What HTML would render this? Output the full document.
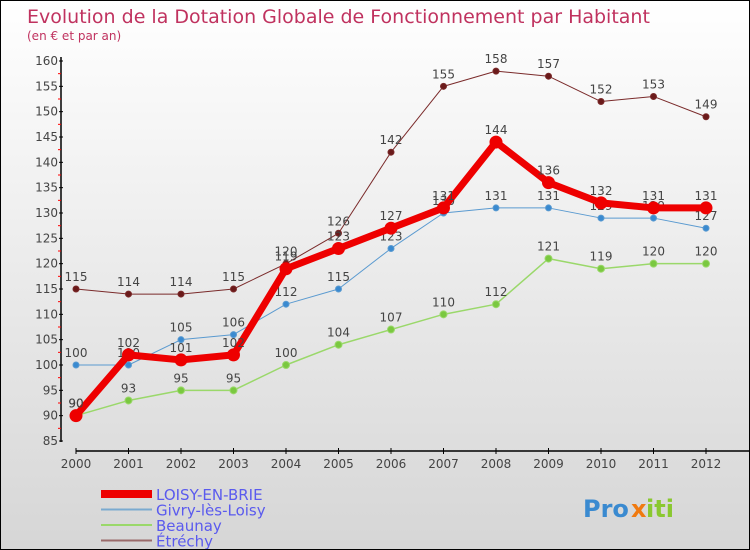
<!DOCTYPE html>
<html><head><meta charset="utf-8"><style>
body{margin:0}
#c{width:750px;height:550px;position:relative;box-sizing:border-box;border:1px solid #000;background:linear-gradient(#fff,#d6d6d6);font-family:"DejaVu Sans","Liberation Sans",sans-serif;overflow:hidden}
</style></head><body>
<div id="c">
<svg width="750" height="550" id="s"></svg>
</div>
<script>
const years=["2000","2001","2002","2003","2004","2005","2006","2007","2008","2009","2010","2011","2012"];
const loisy=[90,102,101,102,119,123,127,131,144,136,132,131,131];
const givry=[100,100,105,106,112,115,123,130,131,131,129,129,127];
const beaunay=[90,93,95,95,100,104,107,110,112,121,119,120,120];
const etrechy=[115,114,114,115,120,126,142,155,158,157,152,153,149];
const yTicks=[85,90,95,100,105,110,115,120,125,130,135,140,145,150,155,160];
const NS="http://www.w3.org/2000/svg";
const s=document.getElementById('s');
const X=i=>75+i*52.5;
const Y=v=>440-(v-85)*380/75;
function el(t,a,p){const e=document.createElementNS(NS,t);for(const k in a)e.setAttribute(k,a[k]);(p||s).appendChild(e);return e;}
function tx(x,y,str,a){const e=el('text',Object.assign({x:x,y:y},a));e.textContent=str;return e;}
let t=tx(26,22,"Evolution de la Dotation Globale de Fonctionnement par Habitant",{fill:"#c0325f","font-size":19});


t=tx(26,39,"(en € et par an)",{fill:"#c0325f","font-size":12});


let a=el('line',{x1:60,y1:56,x2:60,y2:441,stroke:"#000","stroke-width":1.5});


a=el('line',{x1:75,y1:450,x2:750,y2:450,stroke:"#000","stroke-width":1.5});


yTicks.forEach((v,i)=>{
 el('line',{x1:58,y1:Y(v),x2:62,y2:Y(v),stroke:"#000"});
 if(i<yTicks.length-1)el('line',{x1:57,y1:Y(v+2.5),x2:60,y2:Y(v+2.5),stroke:"#f00"});
 const l=tx(57,Y(v)+4,String(v),{"text-anchor":"end","font-size":12,fill:"#444"});
 
 
});
years.forEach((y,i)=>{
 el('line',{x1:X(i),y1:447,x2:X(i),y2:453,stroke:"#000"});
 const l=tx(X(i),467,y,{"text-anchor":"middle","font-size":12,fill:"#444"});
 
 
});
function series(d,color,w,r,dot,name){
 const g=el('g',{});
 
 
 el('polyline',{points:d.map((v,i)=>X(i)+","+Y(v)).join(" "),fill:"none",stroke:color,"stroke-width":w,"stroke-linejoin":"round"},g);
 d.forEach((v,i)=>{
  const c=el('circle',{cx:X(i),cy:Y(v),r:r,fill:dot,stroke:color,"stroke-width":1},g);
  
  
  const l=tx(X(i),Y(v)-8,String(v),{"text-anchor":"middle","font-size":12,fill:"#444"},g);
  
  
 });
}
series(etrechy,"#7a2a2a",1,3,"#6a1a1a","series-etrechy");
series(beaunay,"#9ad86a",1.5,3.5,"#7ac840","series-beaunay");
series(givry,"#5a9ad0",1,3,"#3a8ad0","series-givry");
series(loisy,"#ee0000",7,6,"#ee0000","series-loisy");
const leg=[["LOISY-EN-BRIE","#ee0000",8],["Givry-lès-Loisy","#7aaad0",2],["Beaunay","#9ad86a",2],["Étréchy","#9a6a6a",2]];
leg.forEach((l,i)=>{
 const g=el('g',{});
 
 
 const y=493+i*15.5;
 el('line',{x1:100,y1:y,x2:151,y2:y,stroke:l[1],"stroke-width":l[2]},g);
 tx(155,y+6,l[0],{"font-size":15,fill:"#5a5aee"},g);
});
const lg=el('g',{});


tx(582,516,"Pro",{"font-size":24,fill:"#3a8ad0","font-weight":"bold"},lg);
tx(630,516,"x",{"font-size":24,fill:"#f07a10","font-weight":"bold"},lg);
tx(645,516,"iti",{"font-size":24,fill:"#8ac830","font-weight":"bold"},lg);
</script>
</body></html>
